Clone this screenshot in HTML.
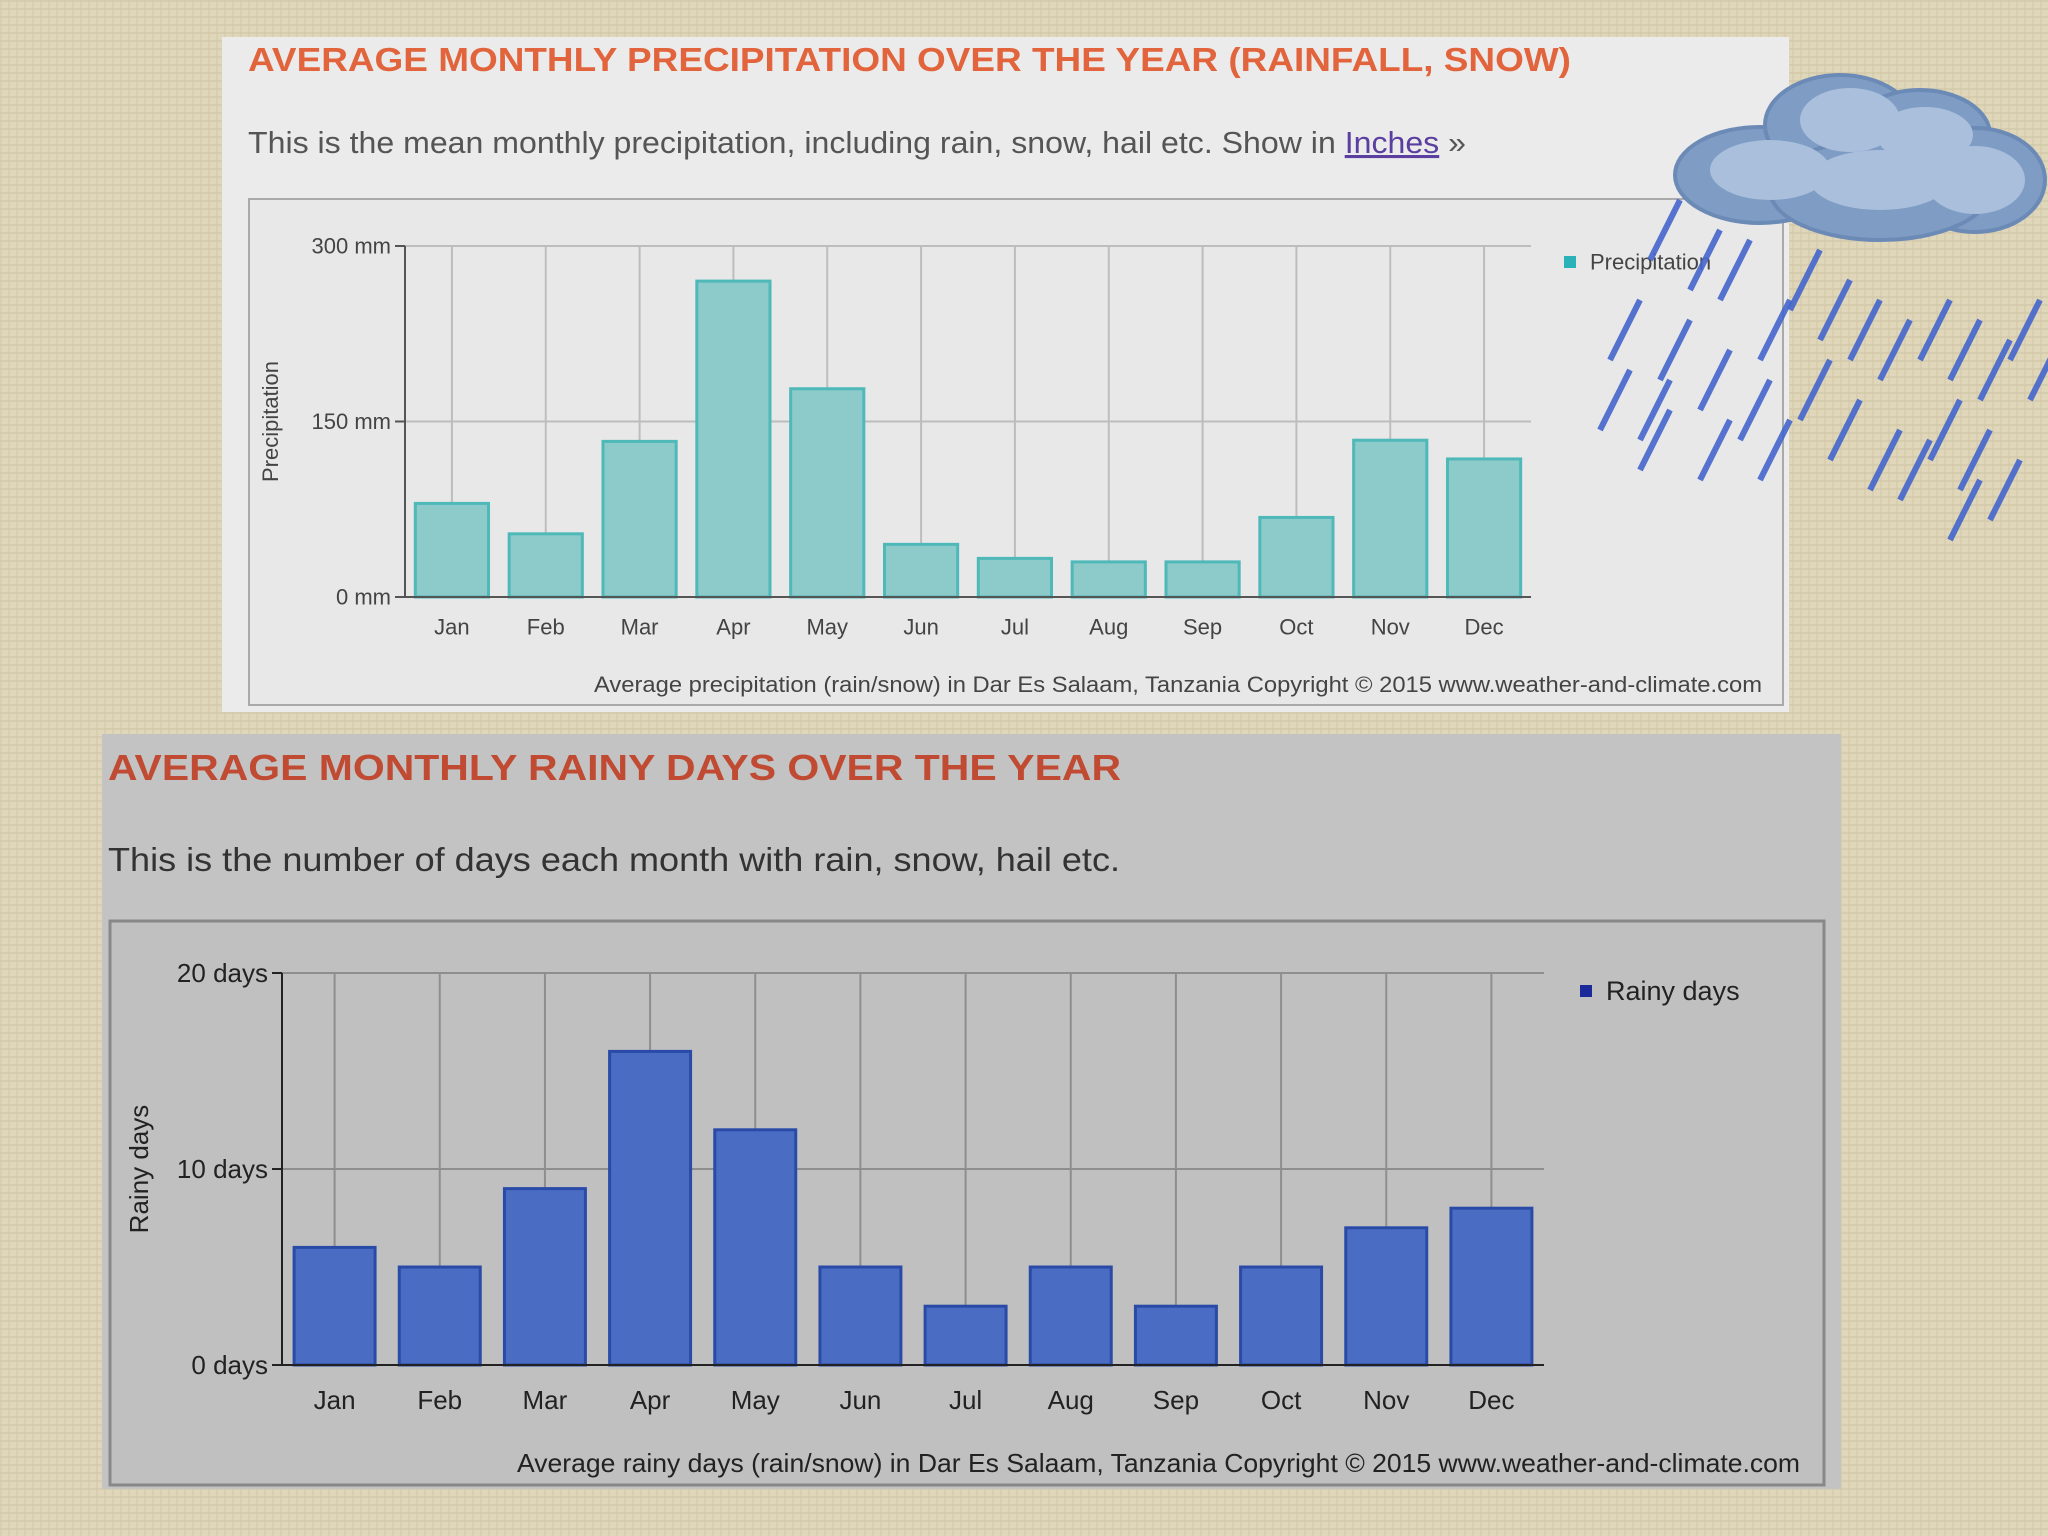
<!DOCTYPE html>
<html><head><meta charset="utf-8"><style>
html,body{margin:0;padding:0;width:2048px;height:1536px;overflow:hidden;background:#ddd3b6}
svg{display:block;font-family:"Liberation Sans",sans-serif}
</style></head><body>
<svg id="root" width="2048" height="1536" viewBox="0 0 2048 1536" xmlns="http://www.w3.org/2000/svg">
<defs>
<pattern id="burlap" width="8" height="8" patternUnits="userSpaceOnUse">
<rect width="8" height="8" fill="#e0d7bb"/>
<rect x="0" y="0" width="8" height="2" fill="#cfc5a5" opacity="0.6"/>
<rect x="0" y="0" width="2" height="8" fill="#d2c8a8" opacity="0.6"/>
</pattern>
</defs>
<rect width="2048" height="1536" fill="url(#burlap)"/>

<g>
<rect x="222" y="37" width="1567" height="675" fill="#ebebeb"/>
<text x="248" y="71" font-size="33" font-weight="bold" fill="#e2643c" textLength="1323" lengthAdjust="spacingAndGlyphs">AVERAGE MONTHLY PRECIPITATION OVER THE YEAR (RAINFALL, SNOW)</text>
<text x="248" y="153" font-size="31" fill="#555" textLength="1218" lengthAdjust="spacingAndGlyphs">This is the mean monthly precipitation, including rain, snow, hail etc. Show in <tspan fill="#5a3fa0" text-decoration="underline">Inches</tspan> »</text>
<rect x="249" y="199" width="1534" height="506" fill="#e8e8e8" stroke="#aaa" stroke-width="2"/>
<g id="chart1"></g>
</g>

<g>
<rect x="102" y="734" width="1739" height="755" fill="#c3c3c3"/>
<text x="108" y="780" font-size="36" font-weight="bold" fill="#c04a32" textLength="1013" lengthAdjust="spacingAndGlyphs">AVERAGE MONTHLY RAINY DAYS OVER THE YEAR</text>
<text x="108" y="871" font-size="33" fill="#333" textLength="1012" lengthAdjust="spacingAndGlyphs">This is the number of days each month with rain, snow, hail etc.</text>
<rect x="110" y="921" width="1714" height="564" fill="#c0c0c0" stroke="#888" stroke-width="3"/>
<g id="chart2"></g>
</g>

<g>
<g fill="#7e9cc4" stroke="#6c8ab6" stroke-width="4">
<ellipse cx="1760" cy="175" rx="85" ry="48"/>
<ellipse cx="1840" cy="125" rx="75" ry="50"/>
<ellipse cx="1920" cy="135" rx="70" ry="45"/>
<ellipse cx="1975" cy="180" rx="70" ry="52"/>
<ellipse cx="1880" cy="190" rx="110" ry="50"/>
</g>
<g fill="#a9bfdc">
<ellipse cx="1770" cy="170" rx="60" ry="30"/>
<ellipse cx="1850" cy="120" rx="50" ry="32"/>
<ellipse cx="1925" cy="135" rx="48" ry="28"/>
<ellipse cx="1975" cy="180" rx="50" ry="34"/>
<ellipse cx="1880" cy="180" rx="70" ry="30"/>
</g>
<g id="rain" stroke="#4466cc" stroke-width="6" stroke-linecap="butt"></g>
</g>
</svg>
<script>
const months = ["Jan","Feb","Mar","Apr","May","Jun","Jul","Aug","Sep","Oct","Nov","Dec"];
const precipValues = [80,54,133,270,178,45,33,30,30,68,134,118];
const precipTicks = [0,150,300];
const precipTickLabels = ["0 mm","150 mm","300 mm"];
const rainyValues = [6,5,9,16,12,5,3,5,3,5,7,8];
const rainyTicks = [0,10,20];
const rainyTickLabels = ["0 days","10 days","20 days"];

const NS="http://www.w3.org/2000/svg";
function mk(tag,attrs,parent,txt){const e=document.createElementNS(NS,tag);for(const k in attrs)e.setAttribute(k,attrs[k]);if(txt!==undefined)e.textContent=txt;parent.appendChild(e);return e;}

function drawChart(g,o){
  const x0=o.x0,x1=o.x1,y0=o.y0,y1=o.y1;
  const cw=(x1-x0)/o.cats.length;
  const xs=i=>x0+cw*(i+0.5);
  const ys=v=>y1-(v/o.max)*(y1-y0);
  o.ticks.forEach((t,i)=>{
    const l=mk('line',{x1:x0,x2:x1,y1:ys(t),y2:ys(t),stroke:o.grid,'stroke-width':o.gw},g);
    
    
    mk('line',{x1:x0-10,x2:x0,y1:ys(t),y2:ys(t),stroke:o.axis,'stroke-width':2},g);
    const tx=mk('text',{x:x0-14,y:ys(t)+o.fs*0.35,'text-anchor':'end','font-size':o.fs,fill:o.tc},g,o.tickLabels[i]);
    
    
  });
  o.cats.forEach((c,i)=>{
    const l=mk('line',{x1:xs(i),x2:xs(i),y1:y0,y2:y1,stroke:o.grid,'stroke-width':o.gw},g);
    
    
  });
  o.cats.forEach((c,i)=>{
    const bw=cw*o.bwf;
    const b=mk('rect',{x:xs(i)-bw/2,y:ys(o.vals[i]),width:bw,height:y1-ys(o.vals[i]),fill:o.fill,stroke:o.stroke,'stroke-width':3},g);
    
    
    const t=mk('text',{x:xs(i),y:y1+o.fs*1.7,'text-anchor':'middle','font-size':o.fs,fill:o.tc},g,c);
    
    
  });
  mk('line',{x1:x0,x2:x0,y1:y0,y2:y1,stroke:o.axis,'stroke-width':2},g);
  mk('line',{x1:x0,x2:x1,y1:y1,y2:y1,stroke:o.axis,'stroke-width':2},g);
  const yt=mk('text',{x:0,y:0,transform:`translate(${o.ytX},${(y0+y1)/2}) rotate(-90)`,'text-anchor':'middle','font-size':o.fs,fill:o.tc},g,o.ytitle);
  
  
  const lg=mk('rect',{x:o.lx,y:o.ly-6,width:12,height:12,fill:o.lcol},g);
  
  
  const lt=mk('text',{x:o.lx+26,y:o.ly+o.fs*0.35,'font-size':o.lfs,fill:o.tc},g,o.legend);
  
  
  const cap=mk('text',{x:o.capX,y:o.capY,'text-anchor':'end','font-size':o.fs,fill:o.tc,textLength:o.capL,lengthAdjust:'spacingAndGlyphs'},g,o.caption);
  
  
}
drawChart(document.getElementById('chart1'),{x0:405,x1:1531,y0:246,y1:597,cats:months,vals:precipValues,max:300,ticks:precipTicks,tickLabels:precipTickLabels,
  grid:'#bdbdbd',gw:2,axis:'#555',fs:22,tc:'#444',fill:'#8dcaca',stroke:'#4fb8b8',bwf:0.78,ytitle:'Precipitation',ytX:278,
  lx:1564,ly:262,lcol:'#2bb2b8',lfs:22,legend:'Precipitation',capX:1762,capY:692,capL:1168,caption:'Average precipitation (rain/snow) in Dar Es Salaam, Tanzania    Copyright © 2015 www.weather-and-climate.com'});
drawChart(document.getElementById('chart2'),{x0:282,x1:1544,y0:973,y1:1365,cats:months,vals:rainyValues,max:20,ticks:rainyTicks,tickLabels:rainyTickLabels,
  grid:'#8e8e8e',gw:2,axis:'#222',fs:26,tc:'#222',fill:'#4a6cc2',stroke:'#2a4aa8',bwf:0.77,ytitle:'Rainy days',ytX:148,
  lx:1580,ly:991,lcol:'#1a2a9a',lfs:27,legend:'Rainy days',capX:1800,capY:1472,capL:1283,caption:'Average rainy days (rain/snow) in Dar Es Salaam, Tanzania    Copyright © 2015 www.weather-and-climate.com'});

const rain=document.getElementById('rain');
const streaks=[[1650,200],[1690,230],[1720,240],[1610,300],[1660,320],[1700,350],[1740,380],[1600,370],[1640,410],[1790,250],[1820,280],[1850,300],[1880,320],[1800,360],[1830,400],[1870,430],[1920,300],[1950,320],[1980,340],[2010,300],[2030,340],[1930,400],[1960,430],[1990,460],[1900,440],[1950,480],[1640,380],[1700,420],[1760,300],[1760,420]];
streaks.forEach(s=>{mk('line',{x1:s[0],y1:s[1]+60,x2:s[0]+30,y2:s[1],opacity:0.9},rain);});
</script>
</body></html>
